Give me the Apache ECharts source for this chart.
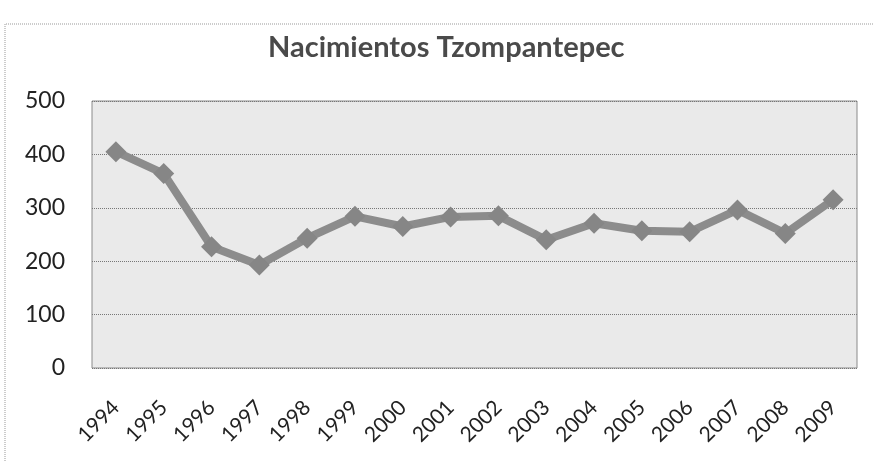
<!DOCTYPE html>
<html>
<head>
<meta charset="utf-8">
<script src="https://cdn.jsdelivr.net/npm/echarts@6/dist/echarts.min.js"></script>
<style>
  html, body { margin: 0; padding: 0; background: #fff; }
  #chart { width: 873px; height: 461px; }
</style>
</head>
<body>
<div id="chart"></div>
<script>
const years = ['1994', '1995', '1996', '1997', '1998', '1999', '2000', '2001',
               '2002', '2003', '2004', '2005', '2006', '2007', '2008', '2009'];
const births = [405, 364, 227, 193, 243, 284, 265, 283, 285, 240, 271, 257, 255, 296, 252, 315];
const yTicks = [0, 100, 200, 300, 400, 500];

const chart = echarts.init(document.getElementById('chart'));
chart.setOption({
    backgroundColor: '#fff',
    animation: false,
    title: {
        text: 'Nacimientos Tzompantepec',
        left: 263,
        top: 28,
        textStyle: {
            fontFamily: 'Lato',
            fontWeight: 'bold',
            fontSize: 29,
            color: '#4a4a4a'
        }
    },
    graphic: [{
        type: 'polyline',
        shape: { points: [[5, 461], [5, 24], [873, 24]] },
        style: { stroke: '#999', lineWidth: 1, lineDash: [1, 1], fill: null }
    }],
    grid: {
        left: 92,
        top: 101,
        right: 16,
        bottom: 93,
        show: true,
        backgroundColor: '#eaeaea',
        borderColor: '#8a8a8a',
        borderWidth: 1
    },
    xAxis: {
        type: 'category',
        data: years,
        boundaryGap: true,
        axisLine: { show: false },
        axisTick: { show: false },
        axisLabel: {
            rotate: 45,
            margin: 36,
            fontFamily: 'Lato',
            fontSize: 21,
            color: '#222'
        }
    },
    yAxis: {
        type: 'value',
        min: yTicks[0],
        max: yTicks[yTicks.length - 1],
        interval: 100,
        axisLine: { show: false },
        axisTick: { show: false },
        axisLabel: {
            margin: 27,
            fontFamily: 'Lato',
            fontSize: 23,
            color: '#222'
        },
        splitLine: {
            lineStyle: { color: '#777', width: 1, type: [1, 1] }
        }
    },
    series: [{
        type: 'line',
        data: births,
        symbol: 'diamond',
        symbolSize: 21,
        lineStyle: { color: '#8c8c8c', width: 8 },
        itemStyle: { color: '#868686' }
    }]
});
</script>
</body>
</html>
